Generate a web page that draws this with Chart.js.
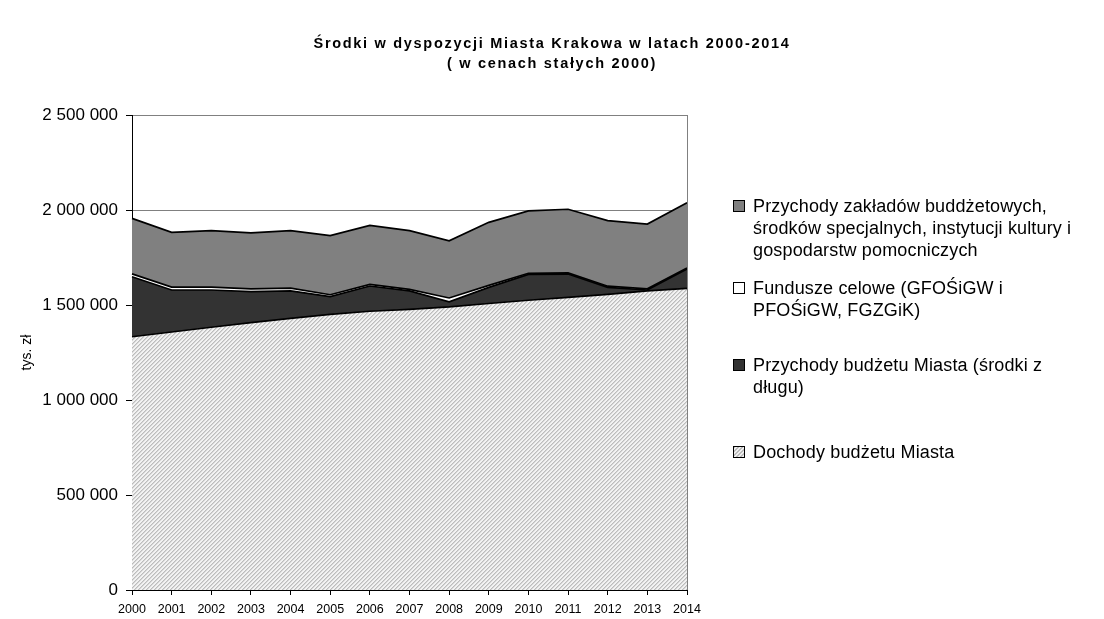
<!DOCTYPE html>
<html>
<head>
<meta charset="utf-8">
<script src="https://cdn.jsdelivr.net/npm/chart.js@4/dist/chart.umd.min.js"></script>
<style>
  html, body { margin: 0; padding: 0; background: #fff; }
  #wrap { position: relative; width: 1104px; height: 619px; overflow: hidden; font-family: 'Liberation Sans', Arial, sans-serif; color: #000; }
  #chart { position: absolute; left: 0; top: 0; }
  #title { position: absolute; left: 0; top: 33px; width: 1104px; text-align: center; font-weight: bold; font-size: 14.5px; line-height: 20px; letter-spacing: 1.7px; }
  .leg { position: absolute; left: 733px; font-size: 18px; line-height: 22px; white-space: nowrap; }
  .leg .sw { position: absolute; left: 0; top: 5px; width: 12px; height: 12px; border: 1px solid #000; box-sizing: border-box; }
  .leg .tx { position: absolute; left: 20px; top: 0; letter-spacing: 0.15px; }
</style>
</head>
<body>
<div id="wrap">
  <canvas id="chart" width="1104" height="619"></canvas>
  <div id="title">Środki w dyspozycji Miasta Krakowa w latach 2000-2014<br>( w cenach stałych 2000)</div>
  <div id="legend"></div>
</div>
<script>
// ---- data (tys. zł) ----
const years = ['2000','2001','2002','2003','2004','2005','2006','2007','2008','2009','2010','2011','2012','2013','2014'];
const dochodyBudzetu = [1333000, 1358000, 1383000, 1407000, 1430000, 1451000, 1467000, 1477000, 1490000, 1508000, 1525000, 1540000, 1556000, 1574000, 1588000];
const przychodyBudzetu = [316000, 221000, 196000, 163000, 144000, 93000, 133000, 97000, 27000, 85000, 136000, 123000, 37000, 5000, 101000];
const funduszeCelowe = [15000, 15000, 15000, 15000, 15000, 10000, 8000, 8000, 20000, 10000, 6000, 6000, 6000, 6000, 6000];
const przychodyZakladow = [292000, 288000, 297000, 295000, 302000, 311000, 311000, 309000, 301000, 332000, 328000, 335000, 345000, 341000, 343000];
const seriesNames = [
  'Dochody budżetu Miasta',
  'Przychody budżetu Miasta (środki z długu)',
  'Fundusze celowe (GFOŚiGW i PFOŚiGW, FGZGiK)',
  'Przychody zakładów buddżetowych, środków specjalnych, instytucji kultury i gospodarstw pomocniczych'
];
const legendLines = [
  ['Dochody budżetu Miasta'],
  ['Przychody budżetu Miasta (środki z', 'długu)'],
  ['Fundusze celowe (GFOŚiGW i', 'PFOŚiGW, FGZGiK)'],
  ['Przychody zakładów buddżetowych,', 'środków specjalnych, instytucji kultury i', 'gospodarstw pomocniczych']
];
const yMin = 0, yMax = 2500000, yStep = 500000;

// hatch pattern for the bottom area
const tile = document.createElement('canvas');
tile.width = 4; tile.height = 4;
const tc = tile.getContext('2d');
tc.fillStyle = '#f2f2f2'; tc.fillRect(0, 0, 4, 4);
for (let i = 0; i < 4; i++) {
  tc.fillStyle = '#bcbcbc'; tc.fillRect(i, 3 - i, 1, 1);
  tc.fillStyle = '#d6d6d6'; tc.fillRect(i, (4 - i) % 4, 1, 1);
}
const ctx = document.getElementById('chart').getContext('2d');
const hatch = ctx.createPattern(tile, 'repeat');

const fills = [hatch, '#333333', '#ffffff', '#808080'];
const swatchCss = [
  'background: repeating-linear-gradient(135deg, #bcbcbc 0 1.2px, #f0f0f0 1.2px 2.8px);',
  'background:#333333;',
  'background:#ffffff;',
  'background:#808080;'
];

// HTML legend (reverse order, like the original)
const legendTops = [441, 354, 277, 195];
const lg = document.getElementById('legend');
for (let i = 3; i >= 0; i--) {
  const d = document.createElement('div');
  d.className = 'leg';
  d.style.top = legendTops[i] + 'px';
  d.innerHTML = '<div class="sw" style="' + swatchCss[i] + '"></div><div class="tx">' + legendLines[i].join('<br>') + '</div>';
  lg.appendChild(d);
}

const dataArrays = [dochodyBudzetu, przychodyBudzetu, funduszeCelowe, przychodyZakladow];
const datasets = dataArrays.map((arr, i) => ({
  label: seriesNames[i],
  data: arr,
  fill: i === 0 ? 'origin' : '-1',
  backgroundColor: fills[i],
  borderColor: '#000000',
  borderWidth: 1.7,
  pointRadius: 0,
  tension: 0
}));

const fmt = v => String(v).replace(/\B(?=(\d{3})+(?!\d))/g, ' ');

const frame = {
  id: 'frame',
  afterDatasetsDraw(chart) {
    const a = chart.chartArea, c = chart.ctx;
    c.save();
    c.strokeStyle = '#808080'; c.lineWidth = 1;
    c.beginPath();
    c.moveTo(Math.round(a.right) + 0.5, a.top);
    c.lineTo(Math.round(a.right) + 0.5, a.bottom);
    c.stroke();
    c.restore();
  }
};

Chart.defaults.font.family = "'Liberation Sans', Arial, sans-serif";
Chart.defaults.color = '#000';

new Chart(ctx, {
  type: 'line',
  data: { labels: years, datasets },
  options: {
    responsive: false,
    animation: false,
    layout: { padding: { top: 115, right: 417, left: 0, bottom: 0 } },
    plugins: { legend: { display: false }, tooltip: { enabled: false }, title: { display: false } },
    scales: {
      x: {
        offset: false,
        grid: { display: true, drawOnChartArea: false, drawTicks: true, tickLength: 5, color: '#000' },
        border: { display: true, color: '#000', width: 1 },
        ticks: { font: { size: 12.5 }, padding: 7, maxRotation: 0, autoSkip: false },
        afterFit(s) { s.height = 29; }
      },
      y: {
        stacked: true,
        min: yMin, max: yMax,
        grid: { color: '#808080', tickColor: '#000', drawTicks: true, tickLength: 6, lineWidth: 1 },
        border: { display: true, color: '#000', width: 1 },
        ticks: { stepSize: yStep, font: { size: 17 }, padding: 8, callback: v => fmt(v) },
        title: { display: true, text: 'tys. zł', font: { size: 14 }, padding: { top: 19, bottom: 0 } },
        afterFit(s) { s.width = 132; }
      }
    }
  },
  plugins: [frame]
});
</script>
</body>
</html>
